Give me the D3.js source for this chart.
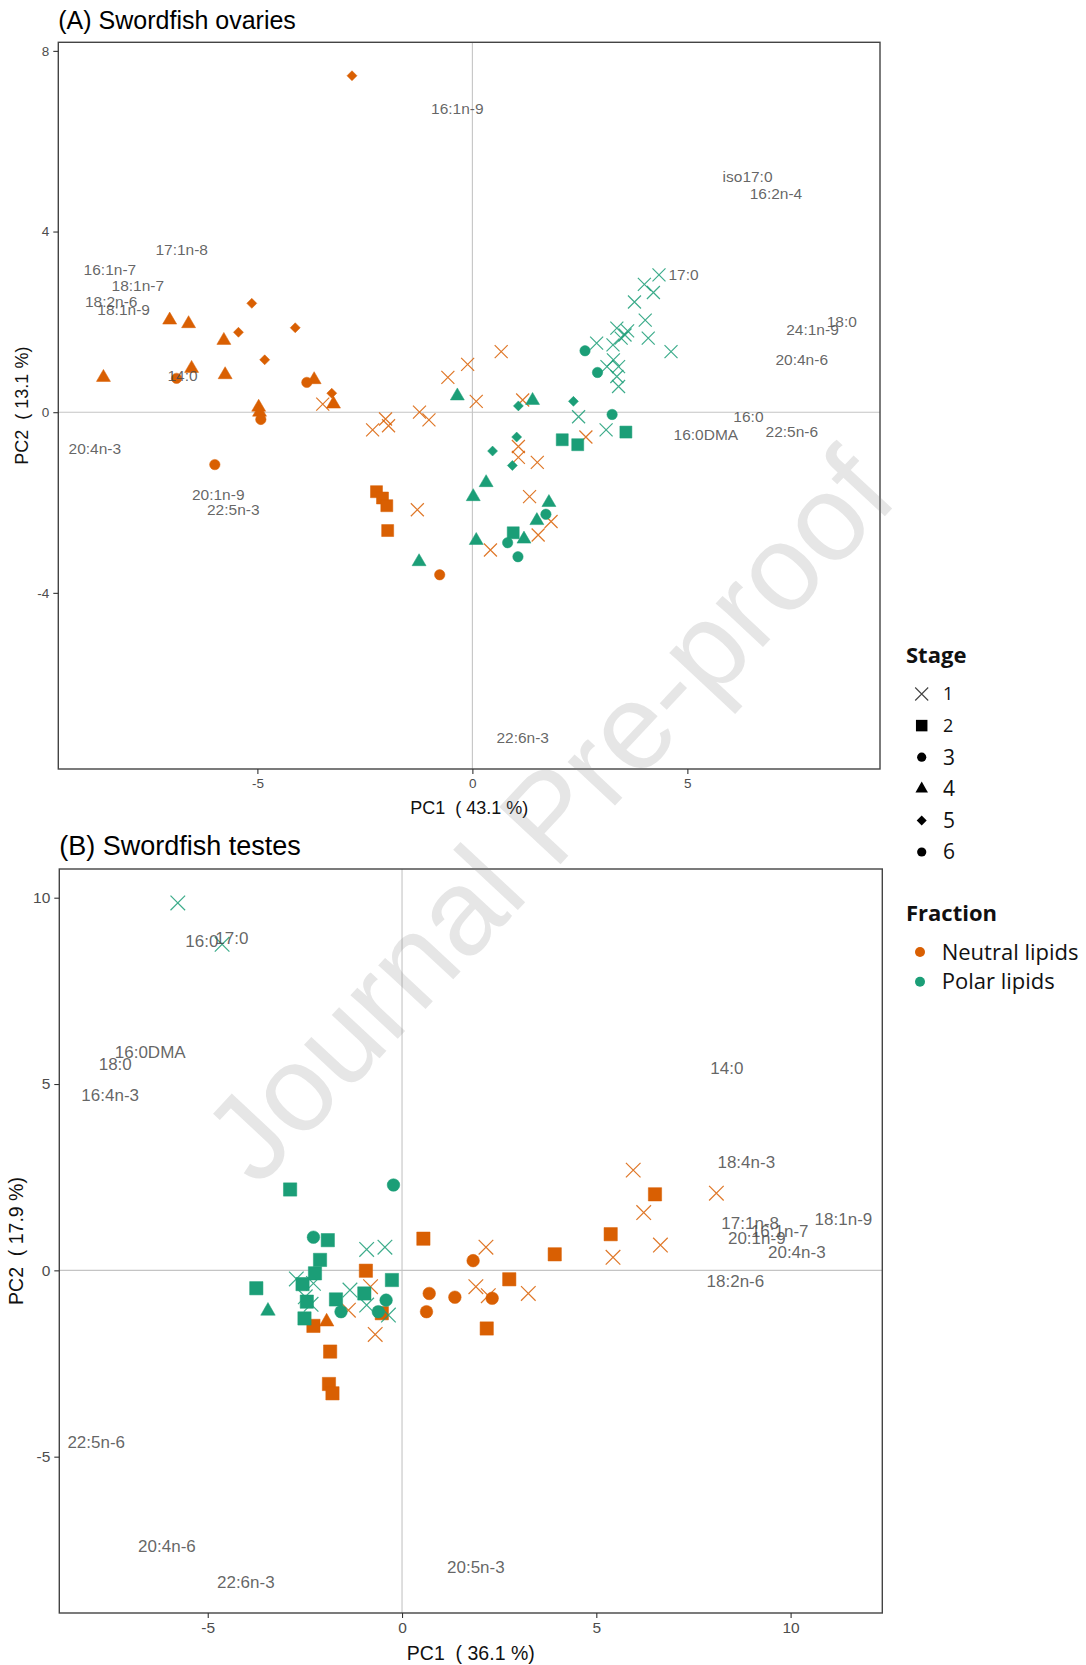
<!DOCTYPE html>
<html><head><meta charset="utf-8">
<script src="https://cdn.jsdelivr.net/npm/d3@7"></script>
<style>
body{margin:0;background:#fff;}
svg text{font-family:"Liberation Sans",Arial,sans-serif;}
.leg text{font-family:"Open Sans","Noto Sans",sans-serif;}
</style></head><body>
<svg id="chart" width="1086" height="1665"></svg>
<script>
// ---------------- DATA ----------------
const stageLevels = ["1","2","3","4","5","6"];
const stageShapes = {"1":"x","2":"square","3":"circle","4":"triangle","5":"diamond","6":"circle"};
const fractionLevels = ["Neutral lipids","Polar lipids"];
const fractionColors = ["#D95F02","#1B9E77"];

// (A) ovaries: [PC1, PC2, stage]
const ovariesNeutral = [
  [-2.80,7.45,"5"],[-5.13,2.41,"5"],[-5.44,1.77,"5"],[-4.12,1.87,"5"],[-4.83,1.16,"5"],[-3.27,0.42,"5"],
  [-7.04,2.04,"4"],[-6.60,1.96,"4"],[-5.78,1.59,"4"],[-8.58,0.77,"4"],[-6.53,0.97,"4"],[-5.75,0.83,"4"],
  [-3.68,0.72,"4"],[-4.97,0.11,"4"],[-3.23,0.18,"4"],[-4.95,0.00,"4"],
  [-6.88,0.75,"6"],[-3.85,0.66,"6"],[-4.92,-0.16,"6"],[-5.99,-1.16,"3"],[-0.76,-3.60,"3"],
  [-2.23,-1.76,"2"],[-2.09,-1.90,"2"],[-1.99,-2.07,"2"],[-1.97,-2.62,"2"],
  [-3.48,0.18,"1"],[-2.32,-0.39,"1"],[-2.02,-0.15,"1"],[-1.95,-0.30,"1"],[-1.23,0.00,"1"],[-1.01,-0.17,"1"],
  [-0.57,0.77,"1"],[-0.11,1.06,"1"],[0.67,1.34,"1"],[0.09,0.24,"1"],[1.17,0.27,"1"],[-1.28,-2.16,"1"],
  [0.42,-3.05,"1"],[2.64,-0.55,"1"],[1.07,-0.76,"1"],[1.07,-1.00,"1"],[1.51,-1.11,"1"],[1.33,-1.87,"1"],
  [1.83,-2.42,"1"],[1.53,-2.72,"1"]
];
const ovariesPolar = [
  [4.34,3.04,"1"],[4.00,2.83,"1"],[4.21,2.65,"1"],[3.77,2.44,"1"],[4.02,2.04,"1"],[3.36,1.86,"1"],
  [3.61,1.80,"1"],[3.55,1.71,"1"],[4.09,1.64,"1"],[3.46,1.64,"1"],[3.27,1.49,"1"],[2.89,1.53,"1"],
  [4.62,1.34,"1"],[3.28,1.16,"1"],[3.40,1.01,"1"],[3.13,1.01,"1"],[3.36,0.79,"1"],[3.40,0.57,"1"],
  [2.47,-0.10,"1"],[3.11,-0.39,"1"],
  [3.57,-0.44,"2"],[2.09,-0.61,"2"],[2.45,-0.72,"2"],[0.95,-2.67,"2"],
  [2.62,1.36,"6"],[2.91,0.88,"6"],[3.25,-0.05,"3"],[1.71,-2.26,"3"],[0.82,-2.89,"3"],[1.06,-3.20,"3"],
  [-0.35,0.36,"4"],[1.40,0.26,"4"],[0.32,-1.56,"4"],[0.02,-1.87,"4"],[0.09,-2.84,"4"],[1.20,-2.81,"4"],
  [1.78,-2.00,"4"],[1.50,-2.40,"4"],[-1.24,-3.31,"4"],
  [1.07,0.14,"5"],[2.35,0.24,"5"],[1.03,-0.55,"5"],[0.47,-0.86,"5"],[0.93,-1.18,"5"]
];
const ovariesLoadings = [
  ["16:1n-9",-0.35,6.72],["17:1n-8",-6.76,3.59],["16:1n-7",-8.43,3.15],["18:1n-7",-7.78,2.80],
  ["18:2n-6",-8.40,2.46],["18:1n-9",-8.11,2.27],["14:0",-6.74,0.81],["20:4n-3",-8.78,-0.80],
  ["20:1n-9",-5.91,-1.82],["22:5n-3",-5.56,-2.16],["22:6n-3",1.17,-7.20],["iso17:0",6.40,5.22],
  ["16:2n-4",7.06,4.85],["17:0",4.91,3.04],["24:1n-9",7.91,1.84],["18:0",8.59,2.01],
  ["20:4n-6",7.66,1.16],["16:0",6.42,-0.10],["16:0DMA",5.43,-0.50],["22:5n-6",7.43,-0.43]
];

// (B) testes: [PC1, PC2, stage]
const testesNeutral = [
  [0.55,0.85,"2"],[-0.93,-0.01,"2"],[-0.52,-1.15,"2"],[-2.28,-1.49,"2"],[-1.85,-2.18,"2"],[-1.88,-3.05,"2"],
  [-1.79,-3.30,"2"],[2.76,-0.24,"2"],[3.93,0.43,"2"],[2.18,-1.56,"2"],[6.51,2.04,"2"],[5.37,0.97,"2"],
  [1.83,0.26,"3"],[0.70,-0.62,"3"],[1.36,-0.72,"3"],[0.63,-1.11,"3"],[2.32,-0.75,"3"],
  [-1.94,-1.38,"4"],
  [-0.81,-0.44,"1"],[-1.38,-1.07,"1"],[-0.69,-1.72,"1"],[2.16,0.62,"1"],[1.90,-0.44,"1"],[2.22,-0.68,"1"],
  [3.25,-0.62,"1"],[5.95,2.69,"1"],[6.22,1.55,"1"],[6.65,0.68,"1"],[5.43,0.35,"1"],[8.09,2.07,"1"]
];
const testesPolar = [
  [-5.77,9.86,"1"],[-4.63,8.75,"1"],[-0.91,0.56,"1"],[-0.44,0.62,"1"],[-2.72,-0.23,"1"],[-2.28,-0.35,"1"],
  [-2.49,-0.71,"1"],[-2.34,-0.91,"1"],[-1.34,-0.53,"1"],[-0.91,-0.93,"1"],[-0.35,-1.20,"1"],
  [-2.88,2.17,"2"],[-1.91,0.81,"2"],[-2.11,0.28,"2"],[-2.24,-0.08,"2"],[-0.26,-0.26,"2"],[-3.75,-0.48,"2"],
  [-2.56,-0.37,"2"],[-2.45,-0.84,"2"],[-1.70,-0.78,"2"],[-0.97,-0.62,"2"],[-2.51,-1.29,"2"],
  [-0.22,2.29,"3"],[-2.28,0.89,"3"],[-1.57,-1.11,"3"],[-0.41,-0.80,"3"],[-0.61,-1.11,"3"],
  [-3.45,-1.09,"4"]
];
const testesLoadings = [
  ["16:0",-5.15,8.84],["17:0",-4.38,8.91],["16:0DMA",-6.48,5.85],["18:0",-7.38,5.54],["16:4n-3",-7.51,4.70],
  ["14:0",8.36,5.42],["18:4n-3",8.86,2.91],["17:1n-8",8.96,1.26],["16:1n-7",9.72,1.05],["20:1n-9",9.13,0.87],
  ["18:1n-9",11.36,1.37],["20:4n-3",10.16,0.50],["18:2n-6",8.58,-0.28],["22:5n-6",-7.87,-4.60],
  ["20:4n-6",-6.05,-7.39],["22:6n-3",-4.02,-8.36],["20:5n-3",1.90,-7.95]
];

const ovariesXTicks = [-5,0,5], ovariesYTicks = [-4,0,4,8];
const testesXTicks = [-5,0,5,10], testesYTicks = [-5,0,5,10];

// ---------------- DRAW ----------------
const svg = d3.select("#chart");

function shapePath(shape, s){
  switch(shape){
    case "square": {const h=s.sq/2; return `M${-h},${-h}h${2*h}v${2*h}h${-2*h}Z`;}
    case "circle": return d3.symbol(d3.symbolCircle, Math.PI*s.r*s.r)();
    case "triangle": {const w=s.tw/2,h=s.th; return `M0,${-h*2/3}L${w},${h/3}L${-w},${h/3}Z`;}
    case "diamond": {const d=s.dm; return `M0,${-d}L${d},0L0,${d}L${-d},0Z`;}
    case "x": {const h=s.xh; return `M${-h},${-h}L${h},${h}M${-h},${h}L${h},${-h}`;}
  }
}

function panel(cfg){
  const g = svg.append("g");
  const x = d3.scaleLinear().domain(cfg.xDomain).range([cfg.left,cfg.right]);
  const y = d3.scaleLinear().domain(cfg.yDomain).range([cfg.bottom,cfg.top]);
  // zero lines
  g.append("line").attr("x1",cfg.left).attr("x2",cfg.right).attr("y1",y(0)).attr("y2",y(0))
    .attr("stroke","#c4c4c4").attr("stroke-width",1.1);
  g.append("line").attr("y1",cfg.top).attr("y2",cfg.bottom).attr("x1",x(0)).attr("x2",x(0))
    .attr("stroke","#c4c4c4").attr("stroke-width",1.1);
  // points
  const pts = [];
  cfg.neutral.forEach(d=>pts.push({x:d[0],y:d[1],stage:d[2],col:fractionColors[0]}));
  cfg.polar.forEach(d=>pts.push({x:d[0],y:d[1],stage:d[2],col:fractionColors[1]}));
  g.append("g").selectAll("path").data(pts).join("path")
    .attr("transform",d=>`translate(${x(d.x)},${y(d.y)})`)
    .attr("d",d=>shapePath(stageShapes[d.stage],cfg.sym))
    .attr("fill",d=>stageShapes[d.stage]==="x"?"none":d.col)
    .attr("stroke",d=>d.col)
    .attr("stroke-width",d=>stageShapes[d.stage]==="x"?1.2:0.5)
    .attr("stroke-opacity",d=>stageShapes[d.stage]==="x"?0.85:1);
  // loadings labels
  g.append("g").selectAll("text").data(cfg.labels).join("text")
    .attr("x",d=>x(d[1])).attr("y",d=>y(d[2])).attr("dy","0.35em")
    .attr("text-anchor","middle").attr("font-size",cfg.labelSize)
    .attr("fill","#4a4a4a").attr("fill-opacity",0.85).text(d=>d[0]);
  // border
  g.append("rect").attr("x",cfg.left).attr("y",cfg.top)
    .attr("width",cfg.right-cfg.left).attr("height",cfg.bottom-cfg.top)
    .attr("fill","none").attr("stroke","#444").attr("stroke-width",1.4);
  // axes
  const ax = g.append("g").attr("transform",`translate(0,${cfg.bottom})`)
    .call(d3.axisBottom(x).tickValues(cfg.xTicks).tickFormat(d=>String(d)).tickSize(5).tickPadding(4));
  const ay = g.append("g").attr("transform",`translate(${cfg.left},0)`)
    .call(d3.axisLeft(y).tickValues(cfg.yTicks).tickFormat(d=>String(d)).tickSize(5).tickPadding(4));
  [ax,ay].forEach(a=>{
    a.select(".domain").remove();
    a.selectAll(".tick line").attr("stroke","#333").attr("stroke-width",1.1);
    a.selectAll(".tick text").attr("fill","#4d4d4d").attr("font-size",cfg.tickSize)
      .attr("font-family","Liberation Sans, Arial, sans-serif");
  });
  // axis titles
  g.append("text").attr("x",(cfg.left+cfg.right)/2).attr("y",cfg.xTitleY).attr("dy","0.35em")
    .attr("text-anchor","middle").attr("font-size",cfg.axisTitleSize).attr("fill","#111")
    .style("white-space","pre").text(cfg.xTitle);
  g.append("text").attr("transform",`translate(${cfg.yTitleX},${(cfg.top+cfg.bottom)/2}) rotate(-90)`)
    .attr("dy","0.35em").attr("text-anchor","middle").attr("font-size",cfg.axisTitleSize).attr("fill","#111")
    .style("white-space","pre").text(cfg.yTitle);
  // title
  g.append("text").attr("x",cfg.left).attr("y",cfg.titleY).attr("font-size",cfg.titleSize)
    .attr("fill","#000").text(cfg.title);
}

panel({
  left:58.3,right:880,top:42.3,bottom:769,
  xDomain:[-9.63,9.48],yDomain:[-7.90,8.19],
  xTicks:ovariesXTicks,yTicks:ovariesYTicks,
  neutral:ovariesNeutral,polar:ovariesPolar,labels:ovariesLoadings,
  sym:{sq:12,r:5.2,tw:14,th:12,dm:5,xh:6.5},
  labelSize:15.5,tickSize:13.5,axisTitleSize:18,
  xTitle:"PC1  ( 43.1 %)",yTitle:"PC2  ( 13.1 %)",xTitleY:808,yTitleX:22,
  title:"(A) Swordfish ovaries",titleY:29,titleSize:25
});
panel({
  left:59.3,right:882.3,top:869,bottom:1613,
  xDomain:[-8.82,12.36],yDomain:[-9.195,10.77],
  xTicks:testesXTicks,yTicks:testesYTicks,
  neutral:testesNeutral,polar:testesPolar,labels:testesLoadings,
  sym:{sq:13.3,r:6.3,tw:14.5,th:12.7,dm:5.5,xh:7.3},
  labelSize:17,tickSize:15.5,axisTitleSize:19.5,
  xTitle:"PC1  ( 36.1 %)",yTitle:"PC2  ( 17.9 %)",xTitleY:1653,yTitleX:16,
  title:"(B) Swordfish testes",titleY:855,titleSize:27
});

// ---------------- LEGEND ----------------
const leg = svg.append("g").attr("class","leg");
leg.append("text").attr("x",906).attr("y",655).attr("dy","0.35em").attr("font-size",22)
  .attr("font-weight","bold").attr("fill","#111").text("Stage");
const stageY = d3.scalePoint().domain(stageLevels).range([694,852]);
const legSym = {sq:11.5,r:4.6,tw:12.5,th:11,dm:5,xh:6.5};
const stageLabelSize = {"1":18,"2":18,"3":21,"4":21,"5":21,"6":21};
stageLevels.forEach(s=>{
  const sh = stageShapes[s];
  leg.append("path").attr("transform",`translate(921.7,${stageY(s)})`)
    .attr("d",shapePath(sh,legSym))
    .attr("fill",sh==="x"?"none":"#000").attr("stroke",sh==="x"?"#444":"none").attr("stroke-width",1.1);
  leg.append("text").attr("x",943).attr("y",stageY(s)).attr("dy","0.35em")
    .attr("font-size",stageLabelSize[s]).attr("fill","#111").text(s);
});
leg.append("text").attr("x",906).attr("y",913).attr("dy","0.35em").attr("font-size",22)
  .attr("font-weight","bold").attr("fill","#111").text("Fraction");
const fracY = d3.scalePoint().domain(fractionLevels).range([952,981.7]);
fractionLevels.forEach((f,i)=>{
  leg.append("circle").attr("cx",920).attr("cy",fracY(f)).attr("r",5).attr("fill",fractionColors[i]);
  leg.append("text").attr("x",941.7).attr("y",fracY(f)).attr("dy","0.35em")
    .attr("font-size",22).attr("fill","#111").text(f);
});

// ---------------- WATERMARK ----------------
svg.append("text").attr("transform","translate(548,815) rotate(-47)")
  .attr("text-anchor","middle").attr("dy","0.35em").attr("font-size",122)
  .attr("fill","#808080").attr("fill-opacity",0.2).text("Journal Pre-proof");
</script>
</body></html>
